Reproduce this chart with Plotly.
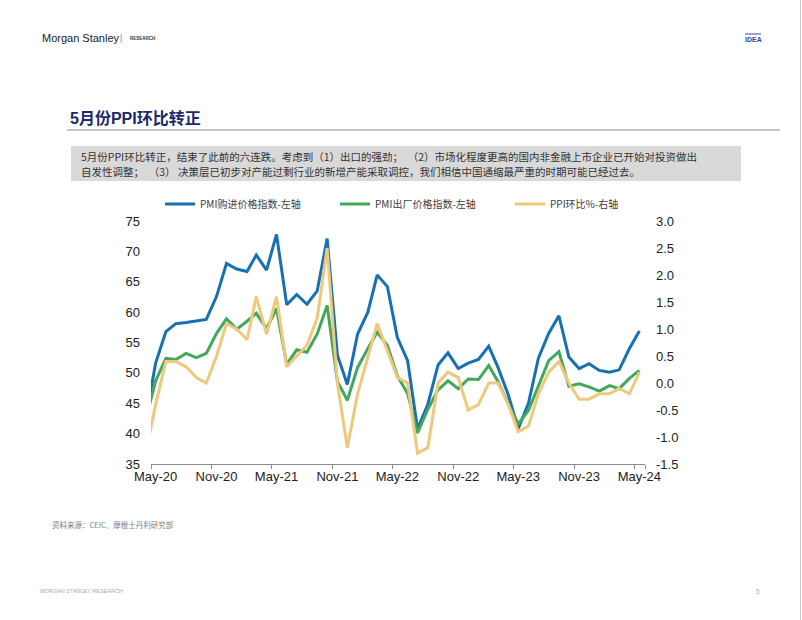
import plotly.graph_objects as go

# ---------------- data ----------------
months = ["2020-04", "2020-05", "2020-06", "2020-07", "2020-08", "2020-09", "2020-10", "2020-11", "2020-12",
          "2021-01", "2021-02", "2021-03", "2021-04", "2021-05", "2021-06", "2021-07", "2021-08", "2021-09",
          "2021-10", "2021-11", "2021-12",
          "2022-01", "2022-02", "2022-03", "2022-04", "2022-05", "2022-06", "2022-07", "2022-08", "2022-09",
          "2022-10", "2022-11", "2022-12",
          "2023-01", "2023-02", "2023-03", "2023-04", "2023-05", "2023-06", "2023-07", "2023-08", "2023-09",
          "2023-10", "2023-11", "2023-12",
          "2024-01", "2024-02", "2024-03", "2024-04", "2024-05"]

pmi_input = [42.5, 51.6, 56.8, 58.1, 58.3, 58.5, 58.8, 62.6, 68.0,
             67.1, 66.7, 69.4, 66.9, 72.8, 61.2, 62.9, 61.3, 63.5, 72.1, 52.9, 48.1,
             56.4, 60.0, 66.1, 64.2, 55.8, 52.0, 40.8, 44.8, 51.3, 53.3, 50.7, 51.6,
             52.2, 54.4, 50.9, 46.4, 40.8, 45.0, 52.4, 56.5, 59.4, 52.6, 50.7, 51.5,
             50.4, 50.1, 50.5, 54.0, 56.9]

pmi_output = [42.2, 48.7, 52.4, 52.2, 53.2, 52.5, 53.2, 56.5, 58.9,
              57.2, 58.5, 59.8, 57.3, 60.6, 51.4, 53.8, 53.4, 56.4, 61.1, 48.6, 45.5,
              50.9, 54.0, 56.7, 54.5, 49.5, 46.6, 40.1, 44.0, 47.2, 48.7, 47.4, 49.0,
              48.9, 51.2, 48.6, 44.9, 41.6, 43.8, 48.0, 52.0, 53.5, 47.8, 48.2, 47.7,
              47.0, 47.9, 47.4, 49.1, 50.4]

ppi_mom = [-1.3, -0.4, 0.4, 0.4, 0.3, 0.1, 0.0, 0.5, 1.1,
           1.0, 0.8, 1.6, 0.9, 1.6, 0.3, 0.5, 0.7, 1.2, 2.5, 0.0, -1.2,
           -0.2, 0.5, 1.1, 0.6, 0.1, 0.0, -1.3, -1.2, 0.0, 0.2, 0.1, -0.5,
           -0.4, 0.0, 0.0, -0.4, -0.9, -0.8, -0.2, 0.2, 0.4, 0.0, -0.3, -0.3,
           -0.2, -0.2, -0.1, -0.2, 0.2]

series_names = ["PMI购进价格指数-左轴", "PMI出厂价格指数-左轴", "PPI环比%-右轴"]

x_tick_months = ["2020-05", "2020-11", "2021-05", "2021-11", "2022-05", "2022-11", "2023-05", "2023-11", "2024-05"]
x_tick_labels = ["May-20", "Nov-20", "May-21", "Nov-21", "May-22", "Nov-22", "May-23", "Nov-23", "May-24"]

right_tick_vals = [-1.5, -1.0, -0.5, 0.0, 0.5, 1.0, 1.5, 2.0, 2.5, 3.0]
right_tick_labels = ["-1.5", "-1.0", "-0.5", "0.0", "0.5", "1.0", "1.5", "2.0", "2.5", "3.0"]

title_text = "5月份PPI环比转正"
body_line1 = "5月份PPI环比转正，结束了此前的六连跌。考虑到（1）出口的强劲；  （2）市场化程度更高的国内非金融上市企业已开始对投资做出"
body_line2 = "自发性调整；  （3） 决策层已初步对产能过剩行业的新增产能采取调控，我们相信中国通缩最严重的时期可能已经过去。"
source_text = "资料来源：CEIC、摩根士丹利研究部"

# ---------------- layout geometry ----------------
W, H = 802, 620
L, R, T, B = 151, 645, 221, 464
PW, PH = R - L, B - T


def px(x):
    return (x - L) / PW


def py(y):
    return (B - y) / PH


x_dates = [m + "-15" for m in months]
colors = ["#1670B3", "#43A85C", "#EEC97C"]

fig = go.Figure()
fig.add_trace(go.Scatter(x=x_dates, y=pmi_input, name=series_names[0], mode="lines",
                         line=dict(color=colors[0], width=3), yaxis="y"))
fig.add_trace(go.Scatter(x=x_dates, y=pmi_output, name=series_names[1], mode="lines",
                         line=dict(color=colors[1], width=3), yaxis="y"))
fig.add_trace(go.Scatter(x=x_dates, y=ppi_mom, name=series_names[2], mode="lines",
                         line=dict(color=colors[2], width=3), yaxis="y2"))

tick_font = dict(family="Liberation Sans, Arial", size=13, color="#222222")

fig.update_layout(
    width=W, height=H,
    margin=dict(l=L, r=W - R, t=T, b=H - B, pad=0),
    paper_bgcolor="white", plot_bgcolor="white",
    showlegend=True,
    legend=dict(orientation="h", x=px(150 + 535), xanchor="right", y=py(204), yanchor="middle",
                font=dict(family="Noto Sans CJK SC", size=10, color="#404040"),
                entrywidthmode="pixels", entrywidth=130, bgcolor="rgba(0,0,0,0)",
                tracegroupgap=0, itemclick=False),
    xaxis=dict(type="date", range=["2020-05-01", "2024-06-01"],
               tickmode="array", tickvals=[m + "-15" for m in x_tick_months], ticktext=x_tick_labels,
               ticks="", showgrid=False, zeroline=False,
               showline=True, linecolor="#8c8c8c", linewidth=1,
               tickfont=tick_font,
               minor=dict(tickmode="array", tickvals=[m + "-01" for m in x_tick_months] + ["2024-06-01"],
                          ticks="outside", ticklen=4, tickcolor="#8c8c8c", showgrid=False)),
    yaxis=dict(range=[35, 75], tickmode="linear", tick0=35, dtick=5, showgrid=False,
               zeroline=False, showline=False, ticks="", tickfont=tick_font, ticklabelstandoff=10),
    yaxis2=dict(range=[-1.5, 3.0], overlaying="y", side="right", tickmode="array",
                tickvals=right_tick_vals, ticktext=right_tick_labels, showgrid=False,
                zeroline=False, showline=False, ticks="", tickfont=tick_font, ticklabelstandoff=10),
)

shapes = []
annotations = []


def note(text, x, y, size, color, family="Liberation Sans", xanchor="left"):
    annotations.append(dict(text=text, x=px(x), y=py(y), xref="paper", yref="paper",
                            xanchor=xanchor, yanchor="middle", align="left", showarrow=False,
                            font=dict(family=family, size=size, color=color)))


# header
note("Morgan Stanley", 40, 38, 11, "#222222", "Liberation Sans Narrow, Liberation Sans")
note("|", 121, 38, 9, "#888888", xanchor="center")
note("<b>RESEARCH</b>", 128, 38, 4.5, "#333333")
note("<b>IDEA</b>", 753, 39, 7, "#2A4C8C", "Liberation Sans Narrow, Liberation Sans", xanchor="center")
shapes.append(dict(type="line", xref="paper", yref="paper", x0=px(745), x1=px(761), y0=py(34), y1=py(34),
                   line=dict(color="#2A4C8C", width=1)))
# page right border
shapes.append(dict(type="line", xref="paper", yref="paper", x0=px(800.5), x1=px(800.5), y0=py(0), y1=py(620),
                   line=dict(color="#cccccc", width=1)))

# title
note("<b>" + title_text + "</b>", 68, 118, 16, "#1B2A6B", "Liberation Sans, Noto Sans CJK SC")
shapes.append(dict(type="line", xref="paper", yref="paper", x0=px(67), x1=px(780), y0=py(130), y1=py(130),
                   line=dict(color="#c4c4c4", width=2)))

# grey text box
shapes.append(dict(type="rect", xref="paper", yref="paper", x0=px(71), x1=px(741), y0=py(181), y1=py(146),
                   fillcolor="#d9d9d9", line=dict(width=0), layer="below"))
note(body_line1, 79, 156, 10.5, "#333333", "Noto Sans CJK SC")
note(body_line2, 79, 171.5, 10.5, "#333333", "Noto Sans CJK SC")

# source
note(source_text, 50, 524, 7.5, "#808080", "Noto Sans CJK SC")

# footer
note("MORGAN STANLEY RESEARCH", 38, 591, 5.5, "#aaaaaa")
note("5", 758, 591, 6.5, "#aaaaaa", xanchor="center")

fig.update_layout(shapes=shapes, annotations=annotations)

fig.write_html("out.html", config={"displayModeBar": False},
               post_script="document.body.style.margin='0';")
